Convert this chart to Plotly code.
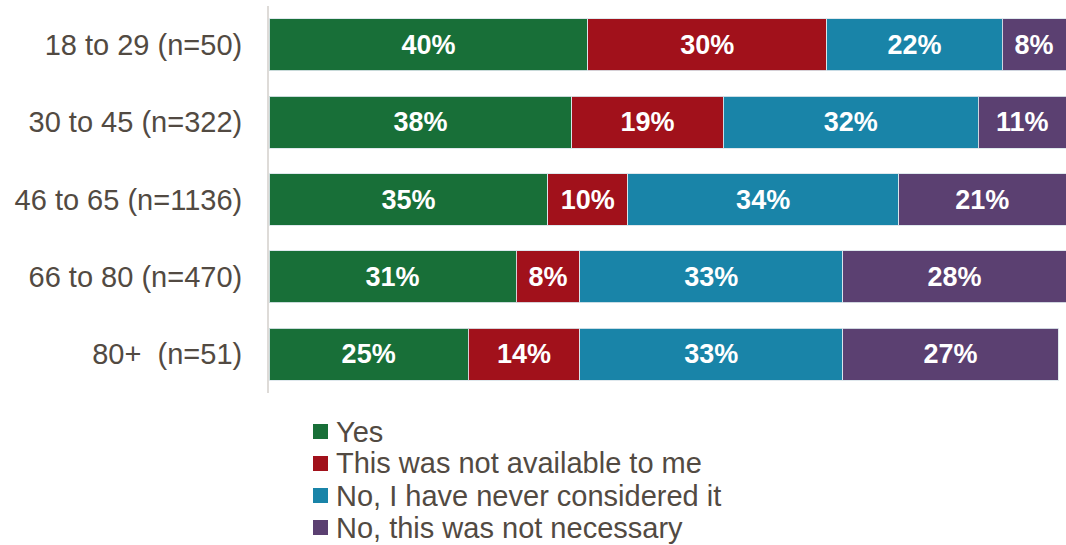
import plotly.graph_objects as go

categories = ["18 to 29 (n=50)", "30 to 45 (n=322)", "46 to 65 (n=1136)",
              "66 to 80 (n=470)", "80+  (n=51)"]
series_names = ["Yes", "This was not available to me",
                "No, I have never considered it", "No, this was not necessary"]
yes = [40, 38, 35, 31, 25]
not_available = [30, 19, 10, 8, 14]
never_considered = [22, 32, 34, 33, 33]
not_necessary = [8, 11, 21, 28, 27]
colors = ["#186f38", "#a1111b", "#1984a8", "#5b4071"]

W, H = 1066, 545
M_L, M_R, M_T, M_B = 269, 0, 6, 152
TEXT = "#524a42"
FONT = "Liberation Sans, Arial"

fig = go.Figure()
for name, vals, col in zip(series_names,
                           [yes, not_available, never_considered, not_necessary],
                           colors):
    fig.add_trace(go.Bar(
        y=categories, x=vals, name=name, orientation="h",
        marker=dict(color=col, line=dict(color="rgba(220,230,235,0.9)", width=1)),
        text=[f"{v}%" for v in vals], textposition="inside",
        insidetextanchor="middle", textangle=0,
        textfont=dict(family=FONT, size=27, color="white", weight="bold"),
        cliponaxis=False, showlegend=False,
    ))

# Legend drawn as square swatches plus text, stacked below the bars
plot_w = W - M_L - M_R
plot_h = H - M_T - M_B
sw_left, sw_size, text_left = 313, 15, 334
row_top, row_step = 424, 32
shapes, annotations = [], []
for i, (name, col) in enumerate(zip(series_names, colors)):
    top = row_top + i * row_step
    x0 = (sw_left - M_L) / plot_w
    x1 = (sw_left + sw_size - M_L) / plot_w
    y0 = (H - M_B - top) / plot_h
    y1 = (H - M_B - top - sw_size) / plot_h
    shapes.append(dict(type="rect", xref="paper", yref="paper",
                       x0=x0, x1=x1, y0=y1, y1=y0,
                       fillcolor=col, line=dict(width=0)))
    annotations.append(dict(
        text=name, xref="paper", yref="paper",
        x=(text_left - M_L) / plot_w,
        y=(H - M_B - top - sw_size / 2) / plot_h,
        xanchor="left", yanchor="middle", showarrow=False,
        font=dict(family=FONT, size=29, color=TEXT)))

fig.update_layout(
    barmode="stack", bargap=0.33,
    width=W, height=H,
    margin=dict(l=M_L, r=M_R, t=M_T, b=M_B, autoexpand=False),
    plot_bgcolor="white", paper_bgcolor="white",
    font=dict(family=FONT, size=29, color=TEXT),
    uniformtext=dict(minsize=27, mode="show"),
    xaxis=dict(range=[0, 100], visible=False, fixedrange=True),
    yaxis=dict(autorange="reversed", showline=True, linecolor="#dedbd8",
               linewidth=2, ticks="", ticklabelstandoff=19,
               tickfont=dict(family=FONT, size=29, color=TEXT), showgrid=False),
    shapes=shapes, annotations=annotations,
    showlegend=False,
)

fig.write_html("out.html")
